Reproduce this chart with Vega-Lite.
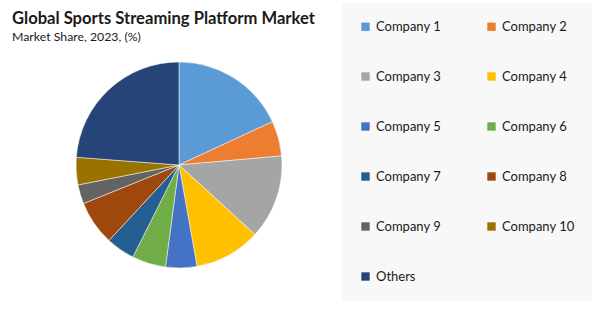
{
  "$schema": "https://vega.github.io/schema/vega-lite/v6.json",
  "width": 334,
  "height": 206,
  "autosize": {"type": "none"},
  "padding": {"left": 12, "top": 62, "right": 254, "bottom": 44},
  "background": "white",
  "title": {
    "text": "Global Sports Streaming Platform Market",
    "subtitle": "Market Share, 2023, (%)",
    "anchor": "start",
    "font": "Lato",
    "fontSize": 16.6,
    "fontWeight": "bold",
    "color": "#1a1a1a",
    "subtitleFont": "Lato",
    "subtitleFontSize": 12.3,
    "subtitleColor": "#1a1a1a",
    "subtitlePadding": 3,
    "offset": -40
  },
  "data": {
    "values": [
      {"company": "Company 1", "share": 18.1, "order": 1},
      {"company": "Company 2", "share": 5.5, "order": 2},
      {"company": "Company 3", "share": 13.2, "order": 3},
      {"company": "Company 4", "share": 10.4, "order": 4},
      {"company": "Company 5", "share": 4.9, "order": 5},
      {"company": "Company 6", "share": 5.3, "order": 6},
      {"company": "Company 7", "share": 4.5, "order": 7},
      {"company": "Company 8", "share": 7.0, "order": 8},
      {"company": "Company 9", "share": 3.0, "order": 9},
      {"company": "Company 10", "share": 4.3, "order": 10},
      {"company": "Others", "share": 23.8, "order": 11}
    ]
  },
  "mark": {"type": "arc", "stroke": "#ffffff", "strokeWidth": 0.5},
  "encoding": {
    "theta": {"field": "share", "type": "quantitative", "stack": true},
    "order": {"field": "order", "type": "quantitative", "sort": "ascending"},
    "color": {
      "field": "company",
      "type": "nominal",
      "scale": {
        "domain": ["Company 1", "Company 2", "Company 3", "Company 4", "Company 5", "Company 6", "Company 7", "Company 8", "Company 9", "Company 10", "Others"],
        "range": ["#5B9BD5", "#ED7D31", "#A5A5A5", "#FFC000", "#4472C4", "#70AD47", "#255E91", "#9E480E", "#636363", "#997300", "#264478"]
      },
      "legend": {
        "title": null,
        "orient": "none",
        "direction": "horizontal",
        "legendX": 330,
        "legendY": -59,
        "columns": 2,
        "columnPadding": 43,
        "rowPadding": 36,
        "fillColor": "#f8f8f8",
        "padding": 17,
        "symbolType": "square",
        "symbolSize": 70,
        "symbolStrokeWidth": 0,
        "labelFont": "Lato",
        "labelFontSize": 13,
        "labelColor": "#1a1a1a",
        "labelOffset": 4
      }
    }
  },
  "config": {"view": {"stroke": null}}
}
